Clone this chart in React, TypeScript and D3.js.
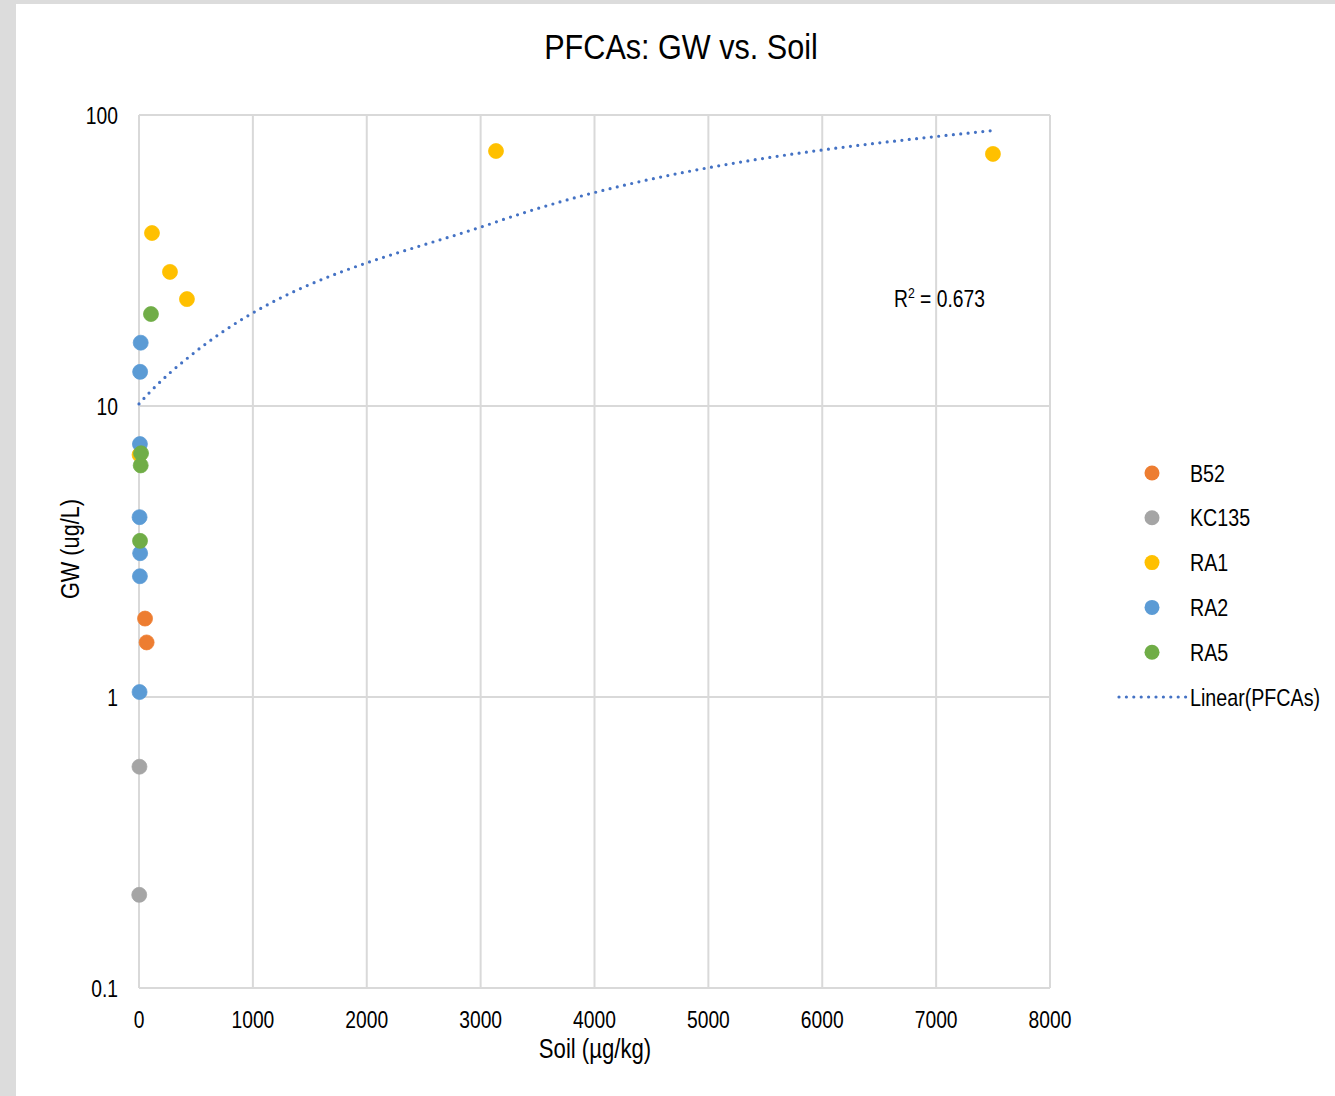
import React from 'react';
import * as d3 from 'd3';

// ---- data ----
const seriesNames = ['B52', 'KC135', 'RA1', 'RA2', 'RA5'];
const seriesColors = ['#ED7D31', '#A5A5A5', '#FFC000', '#5B9BD5', '#70AD47'];

const b52Soil = [53, 67];
const b52GW = [1.86, 1.54];
const kc135Soil = [4, 2];
const kc135GW = [0.576, 0.209];
const ra1Soil = [3135, 7499, 114, 272, 421, 5];
const ra1GW = [75.2, 73.5, 39.3, 28.9, 23.3, 6.8];
const ra2Soil = [15, 10, 8, 5, 10, 8, 5];
const ra2GW = [16.5, 13.1, 7.4, 4.15, 3.12, 2.6, 1.04];
const ra5Soil = [105, 18, 15, 9];
const ra5GW = [20.7, 6.88, 6.25, 3.44];

const xTicks = [0, 1000, 2000, 3000, 4000, 5000, 6000, 7000, 8000];
const yTicks = [0.1, 1, 10, 100];
const yTickLabels = ['0.1', '1', '10', '100'];

const chartTitle = 'PFCAs: GW vs. Soil';
const xTitle = 'Soil (µg/kg)';
const yTitle = 'GW (ug/L)';
const trendName = 'Linear(PFCAs)';
const r2Text = '0.673';

const seriesSoil = [b52Soil, kc135Soil, ra1Soil, ra2Soil, ra5Soil];
const seriesGW = [b52GW, kc135GW, ra1GW, ra2GW, ra5GW];

const W = 1335;
const H = 1096;
const M = { left: 139, right: 1050, top: 115, bottom: 988 };
const FONT = "'Liberation Sans', Arial, sans-serif";
const GRID = '#D9D9D9';
const TREND = '#4472C4';
const NARROW = 0.82;

type NTProps = {
  x: number;
  y: number;
  size: number;
  anchor?: 'start' | 'middle' | 'end';
  rotate?: number;
  sx?: number;
  children: React.ReactNode;
};

function NText({ x, y, size, anchor = 'start', rotate = 0, sx = NARROW, children }: NTProps) {
  return (
    <text
      transform={`translate(${x},${y}) rotate(${rotate}) scale(${sx},1)`}
      textAnchor={anchor}
      fontSize={size}
      fill="#000"
    >
      {children}
    </text>
  );
}

export default function App() {
  const x = d3.scaleLinear().domain([0, 8000]).range([M.left, M.right]);
  const y = d3.scaleLog().domain([0.1, 100]).range([M.bottom, M.top]);

  // least squares linear trend over all points
  const all: [number, number][] = [];
  seriesSoil.forEach((xs, i) => xs.forEach((v, j) => all.push([v, seriesGW[i][j]])));
  const mx = d3.mean(all, (d) => d[0]) as number;
  const my = d3.mean(all, (d) => d[1]) as number;
  const sxy = d3.sum(all, (d) => (d[0] - mx) * (d[1] - my));
  const sxx = d3.sum(all, (d) => (d[0] - mx) ** 2);
  const slope = sxy / sxx;
  const intercept = my - slope * mx;
  const xs = Array.from(new Set(all.map((d) => d[0]))).sort((a, b) => a - b);
  const xsFull = [0, ...xs.filter((v) => v > 0)];
  const trendPts: [number, number][] = xsFull.map((v) => [v, intercept + slope * v]);
  const trendPath = d3
    .line<[number, number]>()
    .x((d) => x(d[0]))
    .y((d) => y(d[1]))
    .curve(d3.curveMonotoneX)(trendPts) as string;

  const legendY0 = 473;
  const legendStep = 44.8;

  return (
    <svg
      width={W}
      height={H}
      style={{ position: 'absolute', left: 0, top: 0, display: 'block' }}
      fontFamily={FONT}
    >
      <rect x={0} y={0} width={W} height={H} fill="#DCDCDC" />
      <rect x={16} y={4} width={W - 16} height={H - 4} fill="#FFFFFF" />

      {/* gridlines */}
      {xTicks.map((t) => (
        <line key={'gx' + t} x1={x(t)} x2={x(t)} y1={M.top} y2={M.bottom} stroke={GRID} strokeWidth={2} />
      ))}
      {yTicks.map((t) => (
        <line key={'gy' + t} x1={M.left} x2={M.right} y1={y(t)} y2={y(t)} stroke={GRID} strokeWidth={2} />
      ))}

      {/* tick labels */}
      {xTicks.map((t) => (
        <NText key={'tx' + t} x={x(t)} y={1028} size={23.5} anchor="middle">
          {t}
        </NText>
      ))}
      {yTicks.map((t, i) => (
        <NText key={'ty' + t} x={118} y={y(t) + 8.5} size={23.5} anchor="end">
          {yTickLabels[i]}
        </NText>
      ))}

      {/* markers */}
      {seriesSoil.map((xsS, i) =>
        xsS.map((v, j) => (
          <circle
            key={'p' + i + '-' + j}
            cx={x(v)}
            cy={y(seriesGW[i][j])}
            r={7.5}
            fill={seriesColors[i]}
            stroke={seriesColors[i]}
            strokeWidth={0.75}
          />
        ))
      )}

      {/* trendline */}
      <path
        d={trendPath}
        fill="none"
        stroke={TREND}
        strokeWidth={3.2}
        strokeDasharray="0 7.4"
        strokeLinecap="round"
      />

      {/* R^2 label */}
      <NText x={894} y={307} size={23.5}>
        R<tspan fontSize={15} dy={-9}>2</tspan>
        <tspan dy={9}> = {r2Text}</tspan>
      </NText>

      {/* titles */}
      <NText x={681} y={59} size={36} anchor="middle" sx={0.85}>
        {chartTitle}
      </NText>
      <NText x={595} y={1058} size={27} anchor="middle">
        {xTitle}
      </NText>
      <NText x={79} y={549} size={26.5} anchor="middle" rotate={-90}>
        {yTitle}
      </NText>

      {/* legend */}
      {seriesNames.map((n, i) => (
        <g key={'lg' + n}>
          <circle cx={1152} cy={legendY0 + i * legendStep} r={7.5} fill={seriesColors[i]} />
          <NText x={1190} y={legendY0 + i * legendStep + 8.5} size={24}>
            {n}
          </NText>
        </g>
      ))}
      <line
        x1={1119}
        x2={1186}
        y1={legendY0 + 5 * legendStep}
        y2={legendY0 + 5 * legendStep}
        stroke={TREND}
        strokeWidth={3.2}
        strokeDasharray="0 7.4"
        strokeLinecap="round"
      />
      <NText x={1190} y={legendY0 + 5 * legendStep + 8.5} size={24}>
        {trendName}
      </NText>
    </svg>
  );
}
